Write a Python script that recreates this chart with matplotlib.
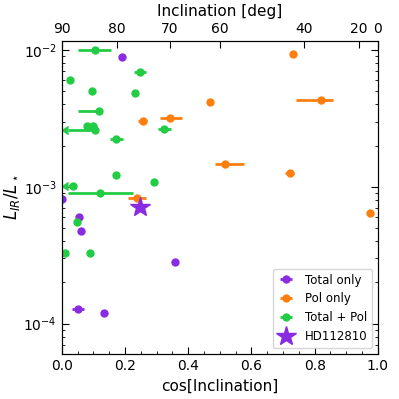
import numpy as np
import matplotlib
matplotlib.use("Agg")
import matplotlib.pyplot as plt

# Total only
tot_x = [0.189, 0.0, 0.054, 0.061, 0.357, 0.051, 0.134]
tot_y = [0.00885, 0.00082, 0.000597, 0.000478, 0.000282, 0.000128, 0.000119]
tot_xlo = [0, 0, 0, 0, 0, 0.018, 0]
tot_xhi = [0, 0, 0, 0, 0, 0.018, 0]

# Pol only
pol_x = [0.730, 0.820, 0.721, 0.975, 0.468, 0.342, 0.256, 0.516, 0.238]
pol_y = [0.00931, 0.0043, 0.00126, 0.000643, 0.0042, 0.00319, 0.00305, 0.00148, 0.000832]
pol_xlo = [0, 0.080, 0.015, 0.010, 0, 0.031, 0.015, 0.031, 0.028]
pol_xhi = [0, 0.037, 0.015, 0.010, 0, 0.037, 0.015, 0.061, 0.028]

# Total + Pol
tp_x = [0.104, 0.247, 0.026, 0.094, 0.233, 0.116, 0.081, 0.099, 0.104, 0.324,
        0.172, 0.172, 0.291, 0.034, 0.121, 0.048, 0.010, 0.088]
tp_y = [0.0100, 0.0069, 0.00604, 0.00502, 0.00485, 0.00361, 0.0028, 0.0028, 0.00259, 0.00265,
        0.00224, 0.00123, 0.00109, 0.00102, 0.000903, 0.000556, 0.000326, 0.000326]
tp_xlo = [0.052, 0.02, 0, 0, 0, 0.066, 0, 0, 0.086, 0.02,
          0.02, 0, 0, 0.016, 0.103, 0, 0, 0]
tp_xhi = [0.051, 0.02, 0, 0, 0, 0, 0, 0, 0, 0.02,
          0.02, 0, 0, 0, 0.103, 0, 0, 0]
tp_arrow = [False, False, False, False, False, False, False, False, True, False,
            False, False, False, True, False, False, False, False]

# HD112810
star_x = [0.247]
star_y = [0.000706]

top_deg = [90, 80, 70, 60, 40, 20, 0]

c_tot = '#8a2be2'
c_pol = '#ff7f0e'
c_tp = '#22cc44'

fig = plt.figure(figsize=(3.99, 3.99), dpi=100)
ax = fig.add_axes([0.155, 0.113, 0.792, 0.785])

kw = dict(fmt='o', ms=5, elinewidth=2, capsize=0, lw=0)
h1 = ax.errorbar(tot_x, tot_y, xerr=[tot_xlo, tot_xhi], color=c_tot, label='Total only', **kw)
h2 = ax.errorbar(pol_x, pol_y, xerr=[pol_xlo, pol_xhi], color=c_pol, label='Pol only', **kw)
h3 = ax.errorbar(tp_x, tp_y, xerr=[tp_xlo, tp_xhi], color=c_tp, label='Total + Pol', **kw)
for x, y, lo, a in zip(tp_x, tp_y, tp_xlo, tp_arrow):
    if a:
        ax.plot([x - lo], [y], marker=8, color=c_tp, ms=6, ls='none', zorder=4)
h4, = ax.plot(star_x, star_y, marker='*', ms=15, color=c_tot, ls='none', label='HD112810', zorder=5)

ax.set_yscale('log')
ax.set_xlim(0, 1)
ax.set_ylim(6.0e-5, 0.0117)
ax.set_xlabel('cos[Inclination]', fontsize=11)
ax.set_ylabel(r'$L_{IR}/L_\star$', fontsize=12, labelpad=1)
ax.minorticks_on()
ax.tick_params(which='both', direction='in', right=True, labelsize=10)
ax.tick_params(which='major', length=5)
ax.tick_params(which='minor', length=2.5)

ax2 = ax.twiny()
ax2.set_xlim(0, 1)
ax2.set_xticks(np.cos(np.radians(top_deg)))
ax2.set_xticklabels([str(d) for d in top_deg])
ax2.tick_params(direction='in', labelsize=10, length=5)
ax2.set_xlabel('Inclination [deg]', fontsize=11)

ax.legend([h1, h2, h3, h4], ['Total only', 'Pol only', 'Total + Pol', 'HD112810'],
          loc='lower right', fontsize=8.5, handlelength=1.5)

fig.savefig('out.png', dpi=100)
